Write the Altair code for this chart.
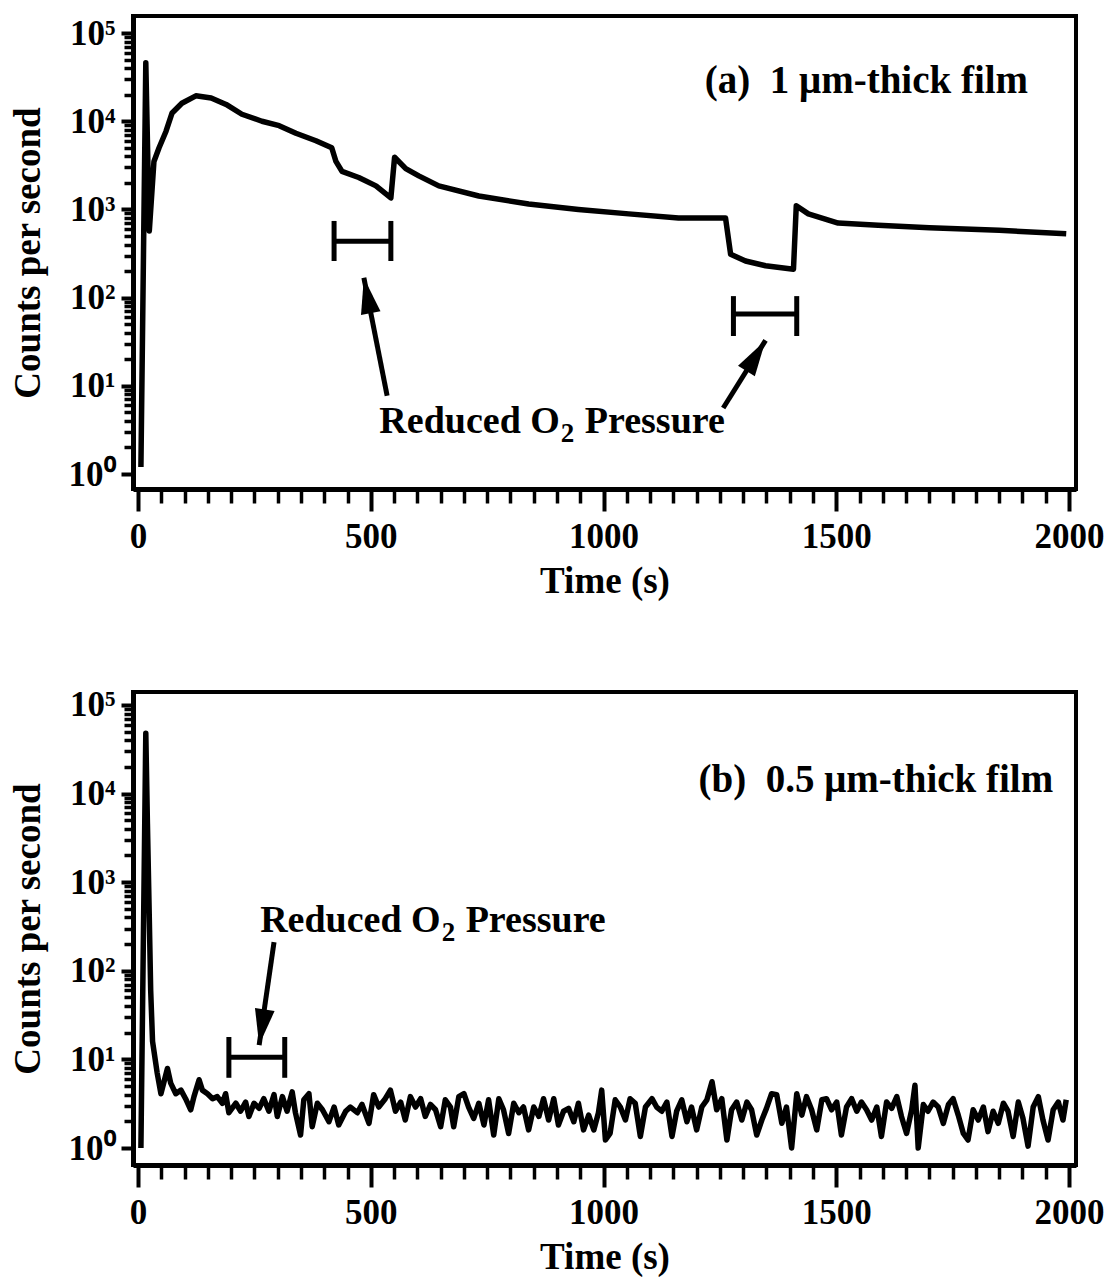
import altair as alt
import pandas as pd

FONT = "Liberation Serif"
INK = "black"

# ---------------- (a) 1 µm-thick film ----------------
time_a = [6, 16.5, 24, 34, 45, 60, 73, 94, 124, 157,
          189, 223, 266, 303, 339, 382, 416, 425, 438, 474,
          511, 543, 551, 575, 603, 646, 732, 839, 946, 1054,
          1161, 1262, 1273, 1305, 1348, 1408, 1414, 1440, 1504, 1590,
          1700, 1850, 1994]
cps_a = [1.2, 46000, 570, 3500, 5000, 7700, 12400, 16000, 19400, 18300,
         15500, 12000, 10000, 8900, 7300, 6000, 5000, 3500, 2700, 2300,
         1850, 1350, 3900, 2900, 2400, 1850, 1420, 1150, 1000, 890,
         800, 800, 310, 260, 230, 210, 1100, 890, 700, 660,
         620, 580, 530]

# ---------------- (b) 0.5 µm-thick film ----------------
time_b = [6, 16.5, 20, 24, 27, 31, 41, 49, 63, 70, 81, 92, 102, 113, 120, 131, 138, 149, 160, 170,
          181, 188, 195, 210, 220, 231, 238, 249, 260, 270, 281, 292, 299, 310, 320, 331, 338, 349, 356, 367,
          374, 385, 396, 410, 421, 431, 446, 456, 471, 481, 496, 506, 517, 531, 542, 553, 564, 574, 585, 596,
          607, 617, 628, 639, 650, 660, 671, 678, 689, 700, 710, 721, 732, 743, 753, 764, 775, 785, 796, 807,
          818, 828, 839, 850, 861, 871, 882, 893, 903, 914, 925, 936, 946, 957, 968, 979, 989, 996, 1004,
          1014, 1025, 1036, 1047, 1057, 1068, 1079, 1090, 1104, 1114, 1125, 1136, 1147, 1157, 1168, 1179, 1189, 1200, 1211, 1222,
          1233, 1243, 1254, 1265, 1275, 1286, 1297, 1308, 1318, 1329, 1340, 1350, 1361, 1372, 1383, 1393, 1404, 1415, 1426, 1436,
          1447, 1458, 1469, 1479, 1490, 1501, 1511, 1522, 1533, 1544, 1554, 1565, 1576, 1587, 1597, 1608, 1619, 1630, 1640, 1651,
          1662, 1669, 1676, 1687, 1697, 1708, 1719, 1730, 1741, 1751, 1762, 1773, 1783, 1794, 1805, 1816, 1826, 1837, 1848, 1859,
          1869, 1880, 1891, 1901, 1912, 1923, 1934, 1944, 1955, 1966, 1977, 1987, 1994]
cps_b = [1.0, 48000, 4600, 400, 60, 16, 7.0, 4.1, 7.9, 5.4, 4.1, 4.5, 3.6, 2.7, 3.8, 5.9, 4.5, 4.1, 3.6, 3.8,
         3.2, 4.1, 2.5, 3.2, 2.6, 3.3, 2.27, 3.2, 2.8, 3.6, 2.6, 4.0, 2.27, 3.8, 2.6, 4.3, 2.5, 1.40, 3.5, 4.1,
         1.74, 3.2, 2.7, 1.98, 2.9, 1.82, 2.6, 2.9, 2.5, 3.1, 1.9, 4.0, 2.9, 3.6, 4.5, 2.6, 3.3, 2.07, 3.8, 2.9,
         3.6, 2.27, 3.1, 2.7, 1.74, 3.5, 2.9, 1.74, 3.8, 4.1, 2.9, 2.16, 3.2, 1.82, 3.5, 1.40, 3.6, 2.7, 1.46, 3.2,
         2.5, 2.9, 1.6, 2.9, 2.27, 3.6, 2.07, 3.6, 1.82, 2.6, 2.8, 1.98, 3.2, 1.6, 2.35, 1.6, 2.5, 4.5, 1.23,
         1.46, 3.5, 2.9, 2.07, 3.6, 3.2, 1.35, 2.9, 3.6, 2.9, 2.6, 3.3, 1.35, 2.6, 3.5, 1.98, 2.9, 1.6, 2.9, 3.5,
         5.6, 2.7, 3.6, 1.23, 2.7, 3.3, 2.07, 3.3, 2.7, 1.40, 2.07, 2.8, 4.1, 4.0, 1.9, 2.9, 1.0, 4.1, 2.35, 3.8,
         2.7, 1.6, 3.5, 3.6, 2.7, 3.3, 1.40, 2.9, 3.6, 2.6, 3.3, 2.7, 2.07, 2.9, 1.35, 3.3, 2.8, 3.8, 2.27, 1.46,
         2.7, 5.1, 1.0, 3.1, 2.6, 3.3, 2.9, 1.9, 3.1, 3.6, 2.35, 1.46, 1.23, 2.7, 2.07, 2.9, 1.53, 2.6, 1.9, 3.2,
         2.6, 1.35, 3.3, 2.16, 1.05, 2.9, 3.8, 2.07, 1.23, 2.7, 3.3, 2.07, 3.5]
assert len(time_a) == len(cps_a) and len(time_b) == len(cps_b)

# Reduced-O2 intervals (seconds) drawn as bracket bars: level and cap extent in counts/s
o2_start_a = [421, 1279]
o2_end_a = [543, 1415]
o2_level_a = [437, 65]
o2_cap_lo_a = [260, 36.7]
o2_cap_hi_a = [740, 104]

o2_start_b = [195]
o2_end_b = [315]
o2_level_b = [10.6]
o2_cap_lo_b = [6.2]
o2_cap_hi_b = [17.9]

# Pointer arrows from the caption to each interval (tail -> tip), heading in degrees
arrow_tail_t_a = [535, 1257]
arrow_tail_c_a = [7.7, 5.6]
arrow_tip_t_a = [485, 1348]
arrow_tip_c_a = [168, 32.8]
arrow_heading_a = [349, 32]

arrow_tail_t_b = [292]
arrow_tail_c_b = [211]
arrow_tip_t_b = [260]
arrow_tip_c_b = [14.5]
arrow_heading_b = [189]

# Caption anchors (position of the O2 subscript) and panel tags
caption_t_a, caption_c_a = 906, 2.92
caption_t_b, caption_c_b = 650, 275
tag_a, tag_t_a, tag_c_a = "(a)\u00a0\u00a01 \u03bcm-thick film", 1912, 20900
tag_b, tag_t_b, tag_c_b = "(b)\u00a0\u00a00.5 \u03bcm-thick film", 1966, 10400

X_DOMAIN = [-11, 2015]
Y_DOMAIN_A = [0.676, 156000]
Y_DOMAIN_B = [0.643, 140000]

MAJOR_X = [0, 500, 1000, 1500, 2000]
MINOR_X = [v for v in range(50, 2000, 50) if v % 500]
MAJOR_Y = [1, 10, 100, 1000, 10000, 100000]
MINOR_Y = [m * 10 ** k for k in range(0, 5) for m in range(2, 10)]
POWER_LABEL = ("'10' + ['\u2070','\u00b9','\u00b2','\u00b3','\u2074','\u2075']"
               "[round(log(datum.value) / LN10)]")
ARROWHEAD = "M0,0L0.55,2L-0.55,2Z"

TXT = dict(font=FONT, fontWeight="bold", color=INK, baseline="alphabetic")


def panel(time, cps, y_domain, o2, arrows, caption, tag):
    xs = alt.Scale(domain=X_DOMAIN, nice=False, zero=False)
    ys = alt.Scale(type="log", domain=y_domain, nice=False)
    curve = pd.DataFrame({"t": time, "cps": cps})

    trace = alt.Chart(curve).mark_line(
        color=INK, strokeWidth=5.5, strokeJoin="round", clip=True
    ).encode(
        x=alt.X("t:Q", scale=xs, axis=alt.Axis(
            values=MAJOR_X, format="d", tickSize=22, tickWidth=4, labelPadding=8,
            title="Time (s)", titlePadding=9)),
        y=alt.Y("cps:Q", scale=ys, axis=alt.Axis(
            values=MAJOR_Y, labelExpr=POWER_LABEL, tickSize=12, tickWidth=4,
            labelPadding=6, title="Counts per second", titlePadding=21)),
    )
    minor = alt.Chart(curve).mark_line(opacity=0).encode(
        x=alt.X("t:Q", scale=xs, axis=alt.Axis(
            values=MINOR_X, tickSize=14, tickWidth=3.5, labels=False, domain=False,
            title=None, orient="bottom")),
        y=alt.Y("cps:Q", scale=ys, axis=alt.Axis(
            values=MINOR_Y, tickSize=9, tickWidth=3.5, labels=False, domain=False,
            title=None, orient="left")),
    )

    bars = pd.DataFrame(dict(zip(["start", "end", "level", "lo", "hi"], o2)))
    span = alt.Chart(bars).mark_rule(color=INK, strokeWidth=5).encode(
        x=alt.X("start:Q", scale=xs, axis=None), x2="end:Q",
        y=alt.Y("level:Q", scale=ys, axis=None),
    )
    caps = alt.Chart(bars).transform_fold(["start", "end"], as_=["side", "edge"]).mark_rule(
        color=INK, strokeWidth=5
    ).encode(
        x=alt.X("edge:Q", scale=xs, axis=None),
        y=alt.Y("lo:Q", scale=ys, axis=None), y2="hi:Q",
    )

    arr = pd.DataFrame(dict(zip(["tail_t", "tail_c", "tip_t", "tip_c", "heading"], arrows)))
    shaft = alt.Chart(arr).mark_rule(color=INK, strokeWidth=5).encode(
        x=alt.X("tail_t:Q", scale=xs, axis=None), x2="tip_t:Q",
        y=alt.Y("tail_c:Q", scale=ys, axis=None), y2="tip_c:Q",
    )
    head = alt.Chart(arr).mark_point(
        shape=ARROWHEAD, filled=True, color=INK, opacity=1, size=1300, strokeWidth=0
    ).encode(
        x=alt.X("tip_t:Q", scale=xs, axis=None),
        y=alt.Y("tip_c:Q", scale=ys, axis=None),
        angle=alt.Angle("heading:Q", scale=None),
    )

    cap_df = pd.DataFrame({"t": [caption[0]], "cps": [caption[1]]})
    cx = alt.X("t:Q", scale=xs, axis=None)
    cy = alt.Y("cps:Q", scale=ys, axis=None)
    word1 = alt.Chart(cap_df).mark_text(text="Reduced O", align="right", fontSize=38, **TXT).encode(x=cx, y=cy)
    word2 = alt.Chart(cap_df).mark_text(text="2", align="left", dx=1, dy=9, fontSize=27, **TXT).encode(x=cx, y=cy)
    word3 = alt.Chart(cap_df).mark_text(text="Pressure", align="left", dx=25, fontSize=38, **TXT).encode(x=cx, y=cy)

    tag_df = pd.DataFrame({"t": [tag[1]], "cps": [tag[2]]})
    label = alt.Chart(tag_df).mark_text(text=tag[0], align="right", fontSize=39, **TXT).encode(
        x=alt.X("t:Q", scale=xs, axis=None), y=alt.Y("cps:Q", scale=ys, axis=None))

    return alt.layer(
        trace, minor, span, caps, shaft, head, word1, word2, word3, label
    ).resolve_axis(x="independent", y="independent").properties(width=943, height=473)


top = panel(
    time_a, cps_a, Y_DOMAIN_A,
    [o2_start_a, o2_end_a, o2_level_a, o2_cap_lo_a, o2_cap_hi_a],
    [arrow_tail_t_a, arrow_tail_c_a, arrow_tip_t_a, arrow_tip_c_a, arrow_heading_a],
    (caption_t_a, caption_c_a), (tag_a, tag_t_a, tag_c_a),
)
bottom = panel(
    time_b, cps_b, Y_DOMAIN_B,
    [o2_start_b, o2_end_b, o2_level_b, o2_cap_lo_b, o2_cap_hi_b],
    [arrow_tail_t_b, arrow_tail_c_b, arrow_tip_t_b, arrow_tip_c_b, arrow_heading_b],
    (caption_t_b, caption_c_b), (tag_b, tag_t_b, tag_c_b),
)

chart = alt.vconcat(top, bottom, spacing=84).properties(
    padding={"left": 7, "top": 14, "right": 0, "bottom": 0}, background="white"
).configure_view(
    stroke=INK, strokeWidth=4
).configure_axis(
    domainColor=INK, domainWidth=5, tickColor=INK, grid=False,
    labelFont=FONT, labelFontSize=35, labelFontWeight="bold", labelColor=INK,
    titleFont=FONT, titleFontSize=37, titleFontWeight="bold", titleColor=INK,
    labelFlush=False, labelOverlap=False,
)

chart.save("out.html", embed_options={"renderer": "svg", "actions": False})
